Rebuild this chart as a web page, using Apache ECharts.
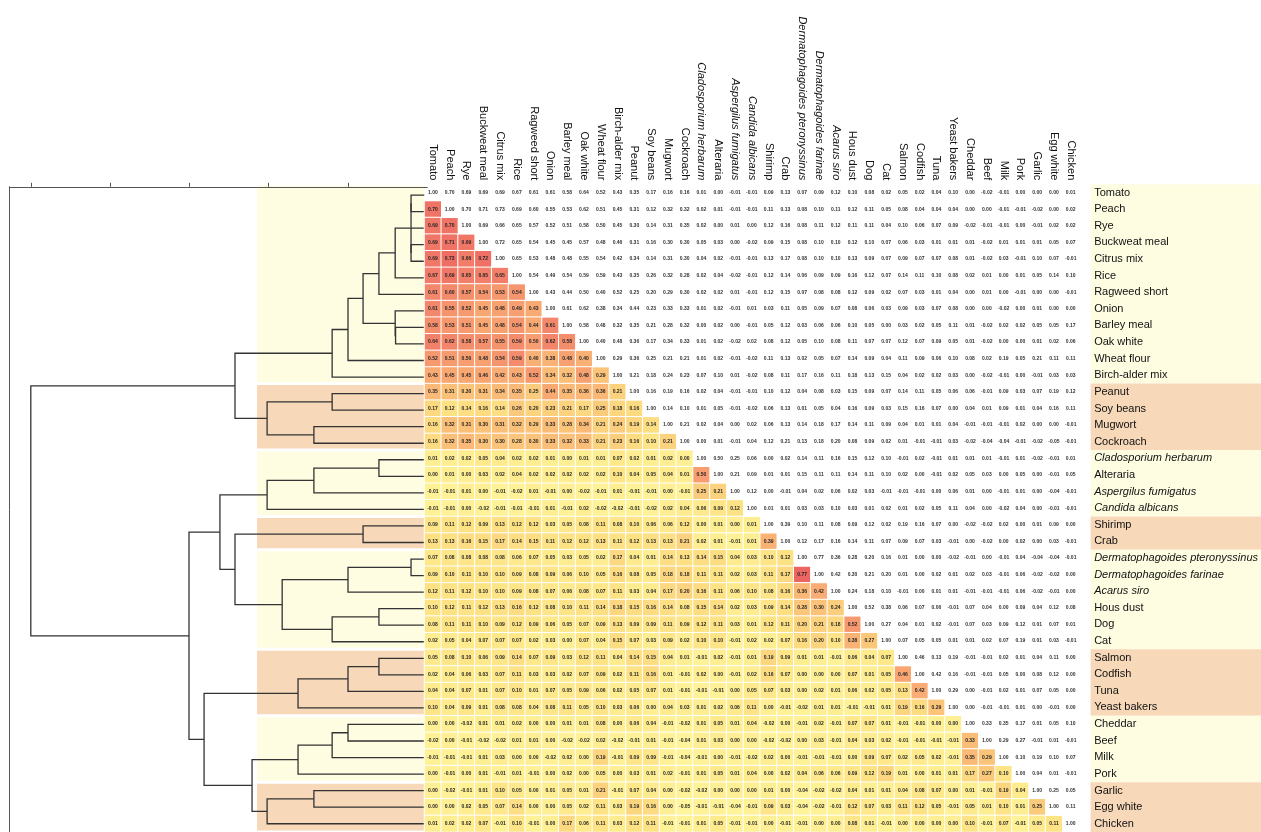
<!DOCTYPE html>
<html>
<head>
<meta charset="utf-8">
<script src="https://cdn.jsdelivr.net/npm/echarts@6/dist/echarts.min.js"></script>
<style>
  html, body { margin: 0; padding: 0; background: #fff; }
  #chart { width: 1261px; height: 832px; }
</style>
</head>
<body>
<div id="chart"></div>
<script>
// allergen labels, same order for rows and columns
const labels = ['Tomato', 'Peach', 'Rye', 'Buckweat meal', 'Citrus mix', 'Rice', 'Ragweed short', 'Onion', 'Barley meal',
  'Oak white', 'Wheat flour', 'Birch-alder mix', 'Peanut', 'Soy beans', 'Mugwort', 'Cockroach', 'Cladosporium herbarum',
  'Alteraria', 'Aspergilus fumigatus', 'Candida albicans', 'Shirimp', 'Crab', 'Dermatophagoides pteronyssinus',
  'Dermatophagoides farinae', 'Acarus siro', 'Hous dust', 'Dog', 'Cat', 'Salmon', 'Codfish', 'Tuna', 'Yeast bakers',
  'Cheddar', 'Beef', 'Milk', 'Pork', 'Garlic', 'Egg white', 'Chicken'];
const italicLabels = ['Cladosporium herbarum', 'Aspergilus fumigatus', 'Candida albicans',
  'Dermatophagoides pteronyssinus', 'Dermatophagoides farinae', 'Acarus siro'];

// correlations right of the diagonal, one array per row
const rowTomato = [0.70, 0.69, 0.69, 0.69, 0.67, 0.61, 0.61, 0.58, 0.64, 0.52, 0.43, 0.35, 0.17, 0.16, 0.16, 0.01, 0.00, -0.01, -0.01, 0.09, 0.13, 0.07, 0.09, 0.12, 0.10, 0.08, 0.02, 0.05, 0.02, 0.04, 0.10, 0.00, -0.02, -0.01, 0.00, 0.00, 0.00, 0.01];
const rowPeach = [0.70, 0.71, 0.73, 0.69, 0.60, 0.55, 0.53, 0.62, 0.51, 0.45, 0.31, 0.12, 0.32, 0.32, 0.02, 0.01, -0.01, -0.01, 0.11, 0.13, 0.08, 0.10, 0.11, 0.12, 0.11, 0.05, 0.08, 0.04, 0.04, 0.04, 0.00, 0.00, -0.01, -0.01, -0.02, 0.00, 0.02];
const rowRye = [0.69, 0.66, 0.65, 0.57, 0.52, 0.51, 0.58, 0.50, 0.45, 0.30, 0.14, 0.31, 0.35, 0.02, 0.00, 0.01, 0.00, 0.12, 0.16, 0.08, 0.11, 0.12, 0.11, 0.11, 0.04, 0.10, 0.06, 0.07, 0.09, -0.02, -0.01, -0.01, 0.00, -0.01, 0.02, 0.02];
const rowBuckweat = [0.72, 0.65, 0.54, 0.45, 0.45, 0.57, 0.48, 0.46, 0.31, 0.16, 0.30, 0.30, 0.05, 0.03, 0.00, -0.02, 0.09, 0.15, 0.08, 0.10, 0.10, 0.12, 0.10, 0.07, 0.06, 0.03, 0.01, 0.01, 0.01, -0.02, 0.01, 0.01, 0.01, 0.05, 0.07];
const rowCitrus = [0.65, 0.53, 0.48, 0.48, 0.55, 0.54, 0.42, 0.34, 0.14, 0.31, 0.30, 0.04, 0.02, -0.01, -0.01, 0.13, 0.17, 0.08, 0.10, 0.10, 0.13, 0.09, 0.07, 0.09, 0.07, 0.07, 0.08, 0.01, -0.02, 0.03, -0.01, 0.10, 0.07, -0.01];
const rowRice = [0.54, 0.49, 0.54, 0.59, 0.59, 0.43, 0.35, 0.26, 0.32, 0.28, 0.02, 0.04, -0.02, -0.01, 0.12, 0.14, 0.06, 0.09, 0.09, 0.16, 0.12, 0.07, 0.14, 0.11, 0.10, 0.08, 0.02, 0.01, 0.00, 0.01, 0.05, 0.14, 0.10];
const rowRagweed = [0.43, 0.44, 0.50, 0.40, 0.52, 0.25, 0.20, 0.29, 0.30, 0.02, 0.02, 0.01, -0.01, 0.12, 0.15, 0.07, 0.08, 0.08, 0.12, 0.09, 0.02, 0.07, 0.03, 0.01, 0.04, 0.00, 0.01, 0.00, -0.01, 0.00, 0.00, -0.01];
const rowOnion = [0.61, 0.62, 0.38, 0.34, 0.44, 0.23, 0.33, 0.33, 0.01, 0.02, -0.01, 0.01, 0.03, 0.11, 0.05, 0.09, 0.07, 0.08, 0.06, 0.03, 0.09, 0.03, 0.07, 0.08, 0.00, 0.00, -0.02, 0.00, 0.01, 0.00, 0.00];
const rowBarley = [0.58, 0.48, 0.32, 0.35, 0.21, 0.28, 0.32, 0.00, 0.02, 0.00, -0.01, 0.05, 0.12, 0.03, 0.06, 0.06, 0.10, 0.05, 0.00, 0.03, 0.02, 0.05, 0.11, 0.01, -0.02, 0.02, 0.02, 0.05, 0.05, 0.17];
const rowOak = [0.40, 0.48, 0.36, 0.17, 0.34, 0.33, 0.01, 0.02, -0.02, 0.02, 0.08, 0.12, 0.05, 0.10, 0.08, 0.11, 0.07, 0.07, 0.12, 0.07, 0.09, 0.05, 0.01, -0.02, 0.00, 0.00, 0.01, 0.02, 0.06];
const rowWheat = [0.29, 0.36, 0.25, 0.21, 0.21, 0.01, 0.02, -0.01, -0.02, 0.11, 0.13, 0.02, 0.05, 0.07, 0.14, 0.09, 0.04, 0.11, 0.09, 0.06, 0.10, 0.08, 0.02, 0.19, 0.05, 0.21, 0.11, 0.11];
const rowBirch = [0.21, 0.18, 0.24, 0.23, 0.07, 0.10, 0.01, -0.02, 0.08, 0.11, 0.17, 0.16, 0.11, 0.18, 0.13, 0.15, 0.04, 0.02, 0.02, 0.03, 0.00, -0.02, -0.01, 0.00, -0.01, 0.03, 0.03];
const rowPeanut = [0.16, 0.19, 0.16, 0.02, 0.04, -0.01, -0.01, 0.10, 0.12, 0.04, 0.08, 0.03, 0.15, 0.09, 0.07, 0.14, 0.11, 0.05, 0.06, 0.06, -0.01, 0.09, 0.03, 0.07, 0.19, 0.12];
const rowSoy = [0.14, 0.10, 0.01, 0.05, -0.01, -0.02, 0.06, 0.13, 0.01, 0.05, 0.04, 0.16, 0.09, 0.03, 0.15, 0.16, 0.07, 0.00, 0.04, 0.01, 0.09, 0.01, 0.04, 0.16, 0.11];
const rowMugwort = [0.21, 0.02, 0.04, 0.00, 0.02, 0.06, 0.13, 0.14, 0.18, 0.17, 0.14, 0.11, 0.09, 0.04, 0.01, 0.01, 0.04, -0.01, -0.01, -0.01, 0.02, 0.00, 0.00, -0.01];
const rowCockroach = [0.00, 0.01, -0.01, 0.04, 0.12, 0.21, 0.13, 0.18, 0.20, 0.08, 0.09, 0.02, 0.01, -0.01, -0.01, 0.03, -0.02, -0.04, -0.04, -0.01, -0.02, -0.05, -0.01];
const rowClado = [0.50, 0.25, 0.06, 0.00, 0.02, 0.14, 0.11, 0.16, 0.15, 0.12, 0.10, -0.01, 0.02, -0.01, 0.01, 0.01, 0.01, -0.01, 0.01, -0.02, -0.01, 0.01];
const rowAlteraria = [0.21, 0.09, 0.01, 0.01, 0.15, 0.11, 0.11, 0.14, 0.11, 0.10, 0.02, 0.00, -0.01, 0.02, 0.05, 0.03, 0.00, 0.05, 0.00, -0.01, 0.05];
const rowAsperg = [0.12, 0.00, -0.01, 0.04, 0.02, 0.06, 0.02, 0.03, -0.01, -0.01, -0.01, 0.00, 0.06, 0.01, 0.00, -0.01, 0.01, 0.00, -0.04, -0.01];
const rowCandida = [0.01, 0.01, 0.03, 0.03, 0.10, 0.03, 0.01, 0.02, 0.01, 0.02, 0.05, 0.11, 0.04, 0.00, -0.02, 0.04, 0.00, -0.01, -0.01];
const rowShirimp = [0.39, 0.10, 0.11, 0.08, 0.09, 0.12, 0.02, 0.19, 0.16, 0.07, 0.00, -0.02, -0.02, 0.02, 0.00, 0.01, 0.09, 0.00];
const rowCrab = [0.12, 0.17, 0.16, 0.14, 0.11, 0.07, 0.09, 0.07, 0.03, -0.01, 0.00, -0.02, 0.00, 0.02, 0.00, 0.03, -0.01];
const rowDermPter = [0.77, 0.36, 0.28, 0.20, 0.16, 0.01, 0.00, 0.00, -0.02, -0.01, 0.00, -0.01, 0.04, -0.04, -0.04, -0.01];
const rowDermFar = [0.42, 0.30, 0.21, 0.20, 0.01, 0.00, 0.02, 0.01, 0.02, 0.03, -0.01, 0.06, -0.02, -0.02, 0.00];
const rowAcarus = [0.24, 0.18, 0.10, -0.01, 0.00, 0.01, 0.01, -0.01, -0.01, -0.01, 0.06, -0.02, -0.01, 0.00];
const rowHousDust = [0.52, 0.38, 0.06, 0.07, 0.06, -0.01, 0.07, 0.04, 0.00, 0.09, 0.04, 0.12, 0.08];
const rowDog = [0.27, 0.04, 0.01, 0.02, -0.01, 0.07, 0.03, 0.09, 0.12, 0.01, 0.07, 0.01];
const rowCat = [0.07, 0.05, 0.05, 0.01, 0.01, 0.02, 0.07, 0.19, 0.01, 0.03, -0.01];
const rowSalmon = [0.46, 0.13, 0.19, -0.01, -0.01, 0.02, 0.01, 0.04, 0.11, 0.00];
const rowCodfish = [0.42, 0.16, -0.01, -0.01, 0.05, 0.00, 0.08, 0.12, 0.00];
const rowTuna = [0.29, 0.00, -0.01, 0.02, 0.01, 0.07, 0.05, 0.00];
const rowYeast = [0.00, -0.01, -0.01, 0.01, 0.00, -0.01, 0.00];
const rowCheddar = [0.33, 0.35, 0.17, 0.01, 0.05, 0.10];
const rowBeef = [0.29, 0.27, -0.01, 0.01, -0.01];
const rowMilk = [0.10, 0.19, 0.10, 0.07];
const rowPork = [0.04, 0.01, -0.01];
const rowGarlic = [0.25, 0.05];
const rowEggWhite = [0.11];
const rowChicken = [];

const upperRows = [rowTomato, rowPeach, rowRye, rowBuckweat, rowCitrus, rowRice, rowRagweed, rowOnion, rowBarley,
  rowOak, rowWheat, rowBirch, rowPeanut, rowSoy, rowMugwort, rowCockroach, rowClado, rowAlteraria, rowAsperg,
  rowCandida, rowShirimp, rowCrab, rowDermPter, rowDermFar, rowAcarus, rowHousDust, rowDog, rowCat, rowSalmon,
  rowCodfish, rowTuna, rowYeast, rowCheddar, rowBeef, rowMilk, rowPork, rowGarlic, rowEggWhite, rowChicken];

// dendrogram merges: [child a, child b, height]; leaves are 0..38, merged nodes get 39, 40, ...
const merges = [
  [0, 1, 0.041], [3, 4, 0.041], [39, 40, 0.041], [41, 2, 0.043], [42, 5, 0.081], [43, 6, 0.122],
  [8, 9, 0.080], [7, 45, 0.081], [44, 46, 0.162], [47, 10, 0.200], [48, 11, 0.240],
  [12, 13, 0.240], [14, 15, 0.286], [50, 51, 0.404], [49, 52, 0.485],
  [16, 17, 0.122], [54, 18, 0.286], [55, 19, 0.404],
  [20, 21, 0.162],
  [22, 23, 0.041], [58, 24, 0.200], [25, 26, 0.122], [60, 27, 0.240], [59, 61, 0.366],
  [57, 62, 0.485], [56, 63, 0.523],
  [28, 29, 0.122], [65, 30, 0.200], [66, 31, 0.326],
  [32, 33, 0.200], [68, 34, 0.240], [69, 35, 0.326],
  [36, 37, 0.286], [71, 38, 0.404], [70, 72, 0.442], [67, 73, 0.563],
  [64, 74, 0.601], [53, 75, 1.000]
];
const dendroTicks = [0.2, 0.4, 0.6, 0.8, 1.0];

// coloured cluster bands: [first row, last row]
const bandRows = [[0, 11], [12, 15], [16, 19], [20, 21], [22, 27], [28, 31], [32, 35], [36, 38]];

// ---- layout
const N = labels.length;
const MAT_LEFT = 424.5, MAT_TOP = 184.3, CELL_W = 17.08, CELL_H = 16.74;
const MAT_W = N * CELL_W, MAT_H = N * CELL_H;
const DEN_LEFT = 9.3, DEN_ZERO = 427.3, DEN_SCALE = 396.5;
const BAND_LEFT = 257, CHART_W = 1261;
const LEFT_FRAC = (MAT_LEFT - BAND_LEFT) / (CHART_W - BAND_LEFT);
const RIGHT_FRAC = (MAT_LEFT + MAT_W - BAND_LEFT) / (CHART_W - BAND_LEFT);
const CREAM = '#fefde2', PEACH = '#f7d8b8';
const FONT = 'Liberation Sans, Arial, sans-serif';

// full symmetric matrix
const matrix = [];
for (let i = 0; i < N; i++) matrix.push(new Array(N).fill(1));
upperRows.forEach((row, i) => {
  row.forEach((v, k) => {
    const j = i + 1 + k;
    matrix[i][j] = v;
    matrix[j][i] = v;
  });
});
const lowerCells = [], upperCells = [];
for (let i = 0; i < N; i++) {
  for (let j = 0; j < N; j++) {
    if (j < i) lowerCells.push([j, i, matrix[i][j]]);
    else upperCells.push([j, i, matrix[i][j]]);
  }
}

// dendrogram links
const nodeY = [], nodeH = [];
for (let i = 0; i < N; i++) { nodeY.push(i); nodeH.push(0); }
const dendroLinks = merges.map(([a, b, h]) => {
  const item = [nodeH[a], nodeY[a], h, nodeY[b], nodeH[b]];
  nodeY.push((nodeY[a] + nodeY[b]) / 2);
  nodeH.push(h);
  return item;
});

const labelFmt = (v) => (italicLabels.indexOf(v) >= 0 ? '{i|' + v + '}' : '{n|' + v + '}');
const labelRich = {
  i: { fontStyle: 'italic', fontSize: 11, fontFamily: FONT, color: '#111' },
  n: { fontSize: 11, fontFamily: FONT, color: '#111' }
};

const chart = echarts.init(document.getElementById('chart'));
chart.setOption({
  animation: false,
  backgroundColor: '#fff',
  grid: [
    { left: MAT_LEFT, top: MAT_TOP, width: MAT_W, height: MAT_H },
    { left: DEN_LEFT, top: MAT_TOP + 2.5, width: DEN_ZERO - DEN_LEFT, height: MAT_H },
    { left: BAND_LEFT, top: MAT_TOP, width: CHART_W - BAND_LEFT, height: MAT_H }
  ],
  xAxis: [
    {
      type: 'category', gridIndex: 0, data: labels, position: 'top', z: 10,
      axisLine: { show: false }, axisTick: { show: false }, splitLine: { show: false },
      axisLabel: { interval: 0, rotate: 90, margin: 4, formatter: labelFmt, rich: labelRich }
    },
    {
      type: 'value', gridIndex: 1, inverse: true, min: 0, max: (DEN_ZERO - DEN_LEFT) / DEN_SCALE,
      interval: 0.2, position: 'top', z: 10,
      axisLine: { show: true, onZero: false, lineStyle: { color: '#555', width: 1 } },
      axisTick: { show: true, length: 4, customValues: dendroTicks, lineStyle: { color: '#555', width: 1 } },
      axisLabel: { show: false }, splitLine: { show: false }
    },
    { type: 'value', gridIndex: 2, min: 0, max: 1, show: false }
  ],
  yAxis: [
    {
      type: 'category', gridIndex: 0, data: labels, inverse: true, position: 'right', z: 10,
      axisLine: { show: false }, axisTick: { show: false }, splitLine: { show: false },
      axisLabel: { interval: 0, margin: 15, formatter: labelFmt, rich: labelRich }
    },
    {
      type: 'value', gridIndex: 1, inverse: true, min: -0.5, max: N - 0.5, z: 10,
      axisLine: { show: true, onZero: false, lineStyle: { color: '#555', width: 1 } },
      axisTick: { show: false }, axisLabel: { show: false }, splitLine: { show: false }
    },
    { type: 'value', gridIndex: 2, inverse: true, min: -0.5, max: N - 0.5, show: false }
  ],
  visualMap: [
    {
      show: false, seriesIndex: 0, dimension: 2, min: -0.05, max: 0.8,
      inRange: { color: ['#fff59a', '#fde284', '#fbc479', '#f8a571', '#f2836a', '#ec5f60'] }
    },
    { show: false, seriesIndex: 1, dimension: 2, min: -1, max: 1, inRange: { color: ['#ffffff', '#ffffff'] } }
  ],
  series: [
    {
      type: 'heatmap', xAxisIndex: 0, yAxisIndex: 0, data: lowerCells, z: 5,
      itemStyle: { borderColor: '#ffffff', borderWidth: 1 },
      label: {
        show: true, fontSize: 5, fontFamily: FONT, fontWeight: 'bold', color: '#262626',
        formatter: (p) => p.data[2].toFixed(2)
      },
      emphasis: { disabled: true }
    },
    {
      type: 'heatmap', xAxisIndex: 0, yAxisIndex: 0, data: upperCells, z: 5,
      label: {
        show: true, fontSize: 5, fontFamily: FONT, fontWeight: 'bold', color: '#333',
        formatter: (p) => p.data[2].toFixed(2)
      },
      emphasis: { disabled: true }
    },
    {
      type: 'custom', xAxisIndex: 1, yAxisIndex: 1, data: dendroLinks, z: 3, silent: true,
      encode: { x: [0, 2, 4], y: [1, 3] },
      renderItem: (params, api) => {
        const p1 = api.coord([api.value(0), api.value(1)]);
        const p2 = api.coord([api.value(2), api.value(1)]);
        const p3 = api.coord([api.value(2), api.value(3)]);
        const p4 = api.coord([api.value(4), api.value(3)]);
        return {
          type: 'polyline',
          shape: { points: [p1, p2, p3, p4] },
          style: { stroke: '#333', lineWidth: 1.3, fill: null }
        };
      }
    },
    {
      type: 'custom', xAxisIndex: 2, yAxisIndex: 2, data: bandRows, z: 1, silent: true,
      renderItem: (params, api) => {
        const s = api.value(0), e = api.value(1);
        const color = params.dataIndex % 2 ? PEACH : CREAM;
        const a = api.coord([0, s - 0.5]), b = api.coord([LEFT_FRAC, e + 0.5]);
        const c = api.coord([RIGHT_FRAC, s - 0.5]), d = api.coord([1, e + 0.5]);
        const gap = 1.5;
        return {
          type: 'group',
          children: [
            { type: 'rect', shape: { x: a[0], y: a[1] + gap, width: b[0] - a[0], height: b[1] - a[1] - 2 * gap }, style: { fill: color } },
            { type: 'rect', shape: { x: c[0], y: c[1], width: d[0] - c[0], height: d[1] - c[1] }, style: { fill: color } }
          ]
        };
      }
    }
  ]
});
</script>
</body>
</html>
